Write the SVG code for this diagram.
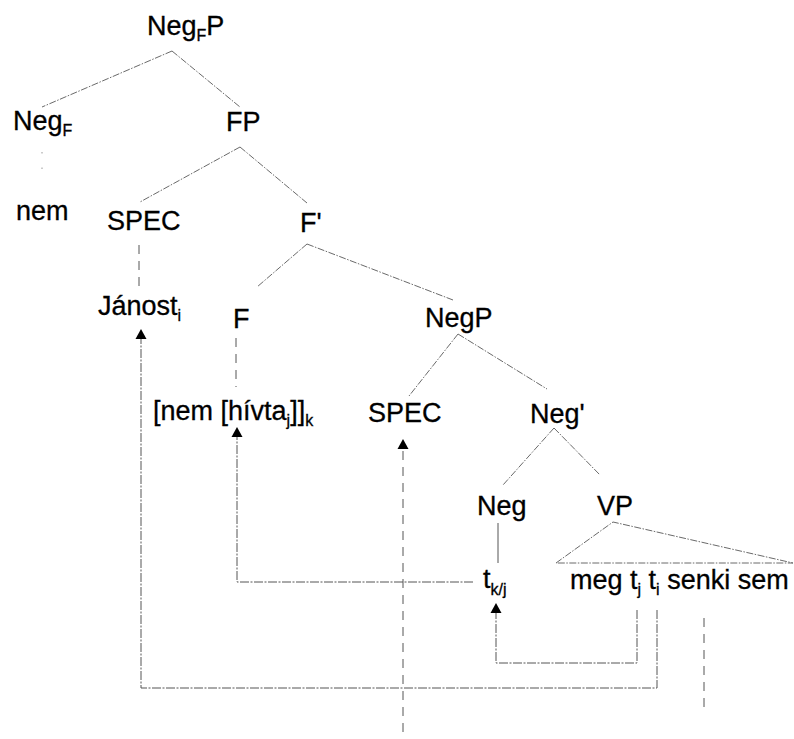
<svg xmlns="http://www.w3.org/2000/svg" xmlns:xlink="http://www.w3.org/1999/xlink" width="794" height="739" viewBox="0 0 794 739">
<style>
text{font-family:"Liberation Sans",Arial,sans-serif;font-size:27px;fill:#000;stroke:#000;stroke-width:0.3}
.sub{font-size:16px}
.edge{stroke:#6a6a6a;stroke-width:1;fill:none;stroke-dasharray:7 1.5 1.5 1.5}
.faint{stroke:#999;stroke-width:1;fill:none;stroke-dasharray:1.5 14}
.solid{stroke:#555;stroke-width:1;fill:none}
.mv{stroke:#555;stroke-width:1;fill:none;stroke-dasharray:9 1.5 2 1.5}
.dash{stroke:#555;stroke-width:1;fill:none;stroke-dasharray:9 7}
.ah{fill:#000;stroke:none}
</style>
<defs>
<path id="ah" class="ah" d="M0,0 L5.5,10 L-5.5,10 Z"/>
</defs>
<rect width="794" height="739" fill="#fff"/>
<g id="connectors">
<line class="edge" x1="172" y1="51" x2="42" y2="107"/>
<line class="edge" x1="172" y1="51" x2="240" y2="107"/>
<line class="faint" x1="42" y1="152" x2="42" y2="183"/>
<line class="edge" x1="240" y1="147" x2="140" y2="202"/>
<line class="edge" x1="240" y1="147" x2="307" y2="203"/>
<line class="dash" x1="139" y1="245" x2="139" y2="287"/>
<line class="edge" x1="307" y1="244" x2="257" y2="287"/>
<line class="edge" x1="307" y1="244" x2="453" y2="300"/>
<line class="dash" x1="236" y1="338" x2="236" y2="387"/>
<line class="edge" x1="458" y1="334" x2="409" y2="396"/>
<line class="edge" x1="458" y1="334" x2="547" y2="389"/>
<line class="edge" x1="554" y1="428" x2="503" y2="485"/>
<line class="edge" x1="554" y1="428" x2="600" y2="475"/>
<line class="solid" x1="498" y1="523" x2="498" y2="563"/>
<path class="edge" d="M556,563 L613,522 L793,563 Z"/>
<path class="mv" d="M657,610 V688 H141 V338"/>
<use xlink:href="#ah" href="#ah" x="141" y="329"/>
<path class="mv" d="M473,582 H237 V436"/>
<use xlink:href="#ah" href="#ah" x="237" y="427"/>
<path class="mv" d="M637,610 V663 H496 V612"/>
<use xlink:href="#ah" href="#ah" x="496" y="603"/>
<path class="dash" d="M403,732 V448"/>
<use xlink:href="#ah" href="#ah" x="403" y="439"/>
<line class="dash" x1="704" y1="618" x2="704" y2="710"/>
</g>
<g id="n-negfp"><text x="147" y="35">Neg<tspan class="sub" dy="6">F</tspan><tspan dy="-6">P</tspan></text></g>
<g id="n-negf"><text x="13" y="130">Neg<tspan class="sub" dy="6">F</tspan></text></g>
<g id="n-fp"><text x="226" y="131">FP</text></g>
<g id="n-nem"><text x="16" y="220">nem</text></g>
<g id="n-spec1"><text x="107" y="230">SPEC</text></g>
<g id="n-fbar"><text x="300" y="232">F'</text></g>
<g id="n-janost"><text x="98" y="315">Jánost<tspan class="sub" dy="6">i</tspan></text></g>
<g id="n-f"><text x="233" y="328">F</text></g>
<g id="n-negp"><text x="425" y="327">NegP</text></g>
<g id="n-nemhivta"><text x="153" y="420">[nem [hívta<tspan class="sub" dy="6">j</tspan><tspan dy="-6">]]</tspan><tspan class="sub" dy="6">k</tspan></text></g>
<g id="n-spec2"><text x="368" y="422">SPEC</text></g>
<g id="n-negbar"><text x="530" y="423">Neg'</text></g>
<g id="n-neg"><text x="477" y="515">Neg</text></g>
<g id="n-vp"><text x="597" y="515">VP</text></g>
<g id="n-tkj"><text x="483" y="588">t<tspan class="sub" dy="7">k/j</tspan></text></g>
<g id="n-meg"><text x="570" y="589">meg t<tspan class="sub" dy="6">j</tspan><tspan dy="-6"> t</tspan><tspan class="sub" dy="6">i</tspan><tspan dy="-6"> senki sem</tspan></text></g>
</svg>
